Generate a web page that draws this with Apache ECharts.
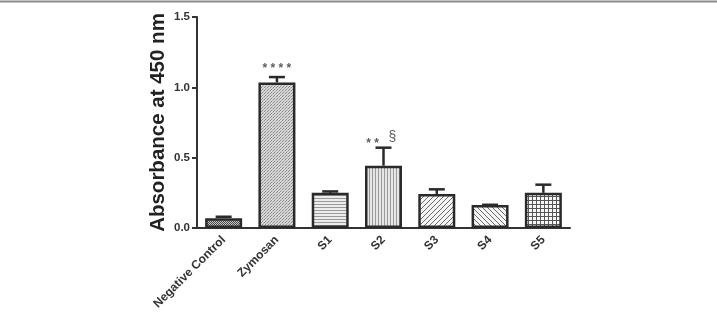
<!DOCTYPE html>
<html>
<head>
<meta charset="utf-8">
<script src="https://cdn.jsdelivr.net/npm/echarts@6/dist/echarts.min.js"></script>
<style>
  html, body { margin: 0; padding: 0; background: #fff; }
  #main { width: 717px; height: 313px; }
</style>
</head>
<body>
<div id="main"></div>
<script>
// data
const categories = ["Negative Control", "Zymosan", "S1", "S2", "S3", "S4", "S5"];
const means = [0.07, 1.035, 0.25, 0.443, 0.242, 0.163, 0.25];
const upperErr = [0.08, 1.073, 0.26, 0.571, 0.275, 0.165, 0.308];
const yTicks = [0, 0.5, 1.0, 1.5];

// significance marks
const markCats = ["Zymosan", "S2", "S2"];
const markTexts = ["* * * *", "* *", "§"];
const markY = [1.13, 0.6, 0.645];

// small canvas tiles used as bar fills
function tile(w, h, draw) {
  const c = document.createElement("canvas");
  c.width = w;
  c.height = h;
  const ctx = c.getContext("2d");
  draw(ctx);
  return { image: c, repeat: "repeat" };
}

const patterns = [
  // negative control: dense dark checker
  tile(2, 2, ctx => {
    ctx.fillStyle = "#c4c4c4"; ctx.fillRect(0, 0, 2, 2);
    ctx.fillStyle = "#4a4a4a"; ctx.fillRect(0, 0, 1, 1); ctx.fillRect(1, 1, 1, 1);
  }),
  // zymosan: fine dot grid
  tile(3, 3, ctx => {
    ctx.fillStyle = "#d6d6d6"; ctx.fillRect(0, 0, 3, 3);
    ctx.fillStyle = "#8c8c8c"; ctx.fillRect(0, 0, 1, 1); ctx.fillRect(1, 2, 1, 1);
    ctx.fillStyle = "#b0b0b0"; ctx.fillRect(2, 1, 1, 1);
  }),
  // S1: horizontal lines
  tile(1, 3, ctx => {
    ctx.fillStyle = "#ececec"; ctx.fillRect(0, 0, 1, 3);
    ctx.fillStyle = "#9a9a9a"; ctx.fillRect(0, 0, 1, 1);
  }),
  // S2: vertical lines
  tile(3, 1, ctx => {
    ctx.fillStyle = "#e6e6e6"; ctx.fillRect(0, 0, 3, 1);
    ctx.fillStyle = "#9a9a9a"; ctx.fillRect(0, 0, 1, 1);
  }),
  // S3: diagonal /
  tile(5, 5, ctx => {
    ctx.fillStyle = "#f4f4f4"; ctx.fillRect(0, 0, 5, 5);
    ctx.fillStyle = "#6a6a6a";
    for (let i = 0; i < 5; i++) ctx.fillRect(4 - i, i, 1, 1);
  }),
  // S4: diagonal \
  tile(5, 5, ctx => {
    ctx.fillStyle = "#f4f4f4"; ctx.fillRect(0, 0, 5, 5);
    ctx.fillStyle = "#6a6a6a";
    for (let i = 0; i < 5; i++) ctx.fillRect(i, i, 1, 1);
  }),
  // S5: square grid
  tile(4, 4, ctx => {
    ctx.fillStyle = "#f6f6f6"; ctx.fillRect(0, 0, 4, 4);
    ctx.fillStyle = "#555555";
    ctx.fillRect(0, 0, 4, 1); ctx.fillRect(0, 0, 1, 4);
  })
];

const font = "'Liberation Sans', Arial, sans-serif";
let myChart = echarts.init(document.getElementById("main"));

let option = {
  animation: false,
  backgroundColor: "#fff",
  graphic: [
    {
      type: "line",
      shape: { x1: 0, y1: 1.5, x2: 717, y2: 1.5 },
      style: { stroke: "#8a8a8a", lineWidth: 2 }
    }
  ],
  grid: { left: 197, right: 147, top: 17, bottom: 85 },
  xAxis: {
    type: "category",
    data: categories,
    axisLine: { lineStyle: { color: "#333", width: 2 } },
    axisTick: { alignWithLabel: true, length: 5, lineStyle: { color: "#333", width: 2 } },
    axisLabel: {
      rotate: 45,
      margin: 10,
      color: "#333",
      fontWeight: "bold",
      fontSize: 12,
      fontFamily: font
    }
  },
  yAxis: {
    type: "value",
    min: 0,
    max: 1.5,
    interval: 0.5,
    name: "Absorbance at 450 nm",
    nameLocation: "middle",
    nameGap: 28,
    nameMoveOverlap: false,
    nameTextStyle: { color: "#222", fontWeight: "bold", fontSize: 20.5, fontFamily: font },
    splitLine: { show: false },
    axisLine: { show: true, lineStyle: { color: "#333", width: 2 } },
    axisTick: { show: true, length: 5, lineStyle: { color: "#333", width: 2 } },
    axisLabel: {
      margin: 7,
      color: "#333",
      fontWeight: "bold",
      fontSize: 11.5,
      fontFamily: font,
      formatter: v => (yTicks.indexOf(v) >= 0 ? v.toFixed(1) : "")
    }
  },
  series: [
    {
      type: "bar",
      barWidth: 37,
      data: means.map((v, i) => ({
        value: v,
        itemStyle: { color: patterns[i] }
      })),
      itemStyle: { borderColor: "#2a2a2a", borderWidth: 2.5 },
      z: 2
    },
    {
      type: "custom",
      data: means.map((v, i) => [i, v, upperErr[i]]),
      renderItem: function (params, api) {
        const lo = api.coord([api.value(0), api.value(1)]);
        const hi = api.coord([api.value(0), api.value(2)]);
        const half = 8;
        return {
          type: "group",
          children: [
            {
              type: "line",
              shape: { x1: lo[0], y1: lo[1], x2: hi[0], y2: hi[1] },
              style: { stroke: "#2a2a2a", lineWidth: 2.5 }
            },
            {
              type: "line",
              shape: { x1: hi[0] - half, y1: hi[1], x2: hi[0] + half, y2: hi[1] },
              style: { stroke: "#2a2a2a", lineWidth: 2.5 }
            }
          ]
        };
      },
      z: 3
    },
    {
      type: "scatter",
      symbolSize: 0,
      data: markCats.map((c, i) => ({
        value: [c, markY[i]],
        label: {
          show: true,
          formatter: markTexts[i],
          position: "inside",
          offset: i === 1 ? [-11, 0] : i === 2 ? [9, 0] : [0, 0],
          color: "#333",
          fontWeight: i === 2 ? "normal" : "bold",
          fontSize: i === 2 ? 14 : 12,
          fontFamily: font
        }
      })),
      z: 4
    }
  ]
};

myChart.setOption(option);
</script>
</body>
</html>
